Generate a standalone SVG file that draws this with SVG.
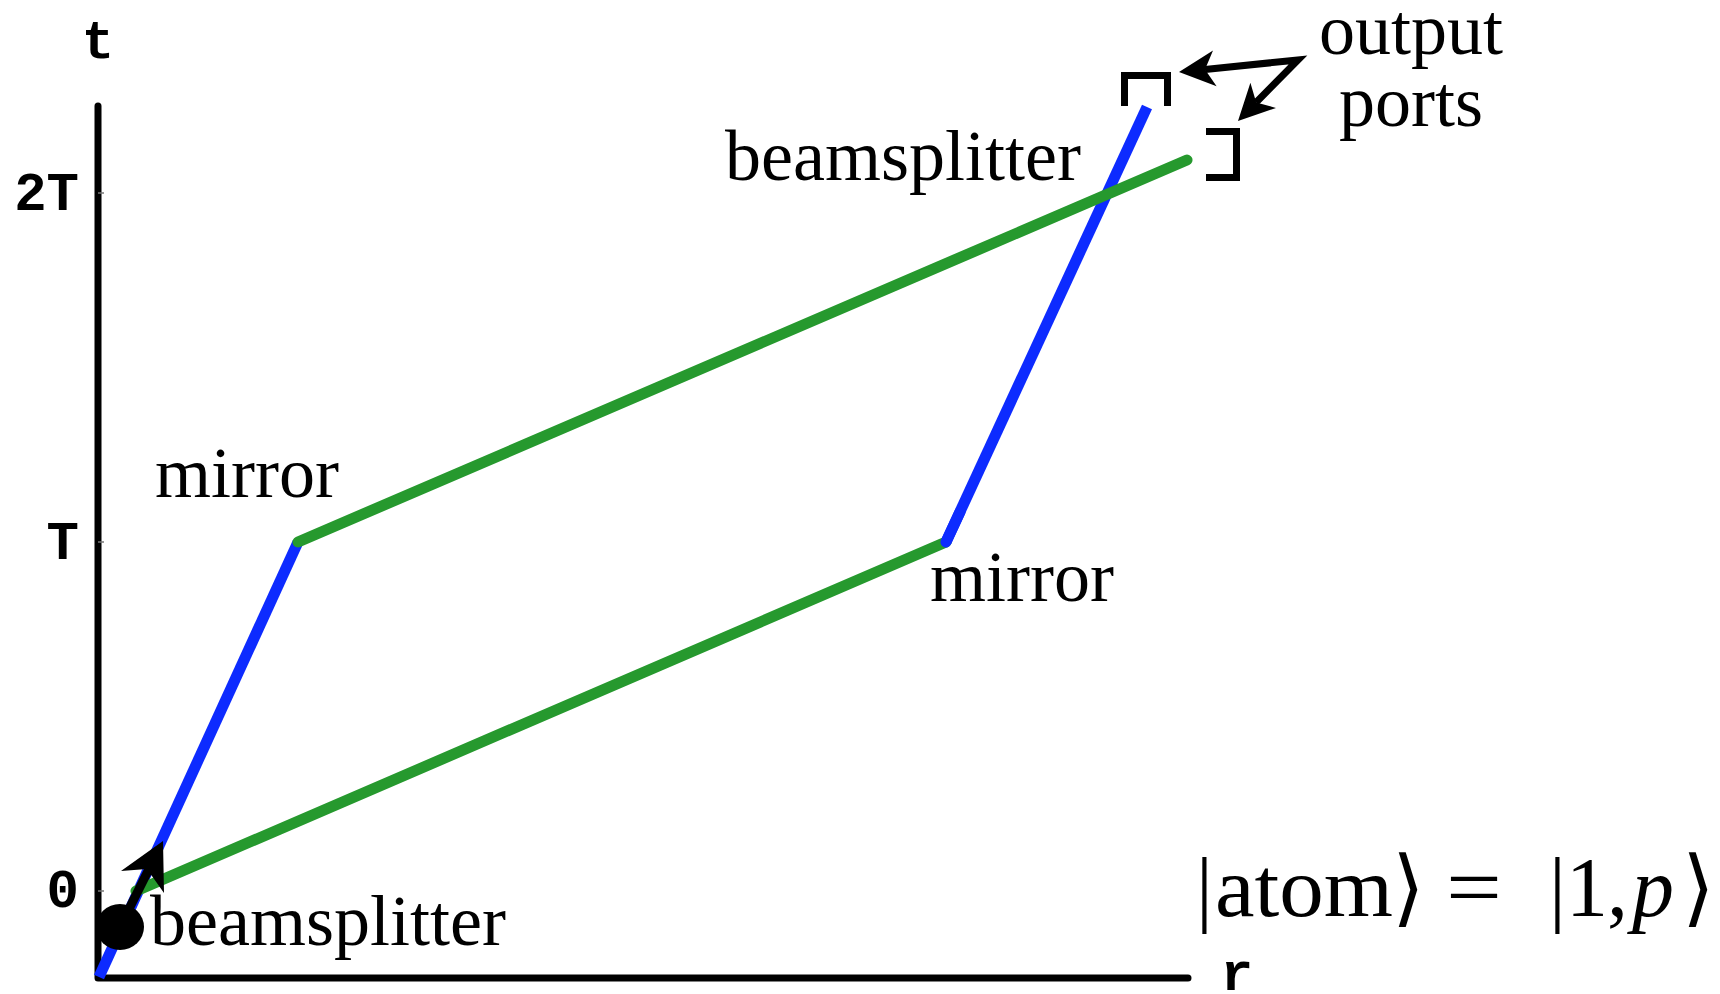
<svg xmlns="http://www.w3.org/2000/svg" width="1720" height="994" viewBox="0 0 1720 994">
<style>
.lbl{font-family:"Liberation Serif","Times New Roman",serif;font-size:72px;fill:#000}
.ax{font-family:"Liberation Mono","Courier New",monospace;font-weight:bold;font-size:54px;fill:#000}
.math{font-family:"Liberation Serif","DejaVu Serif",serif;font-size:84px;fill:#000}
.blue{stroke:#0d2bff;stroke-width:11;fill:none}
.green{stroke:#26992e;stroke-width:11;fill:none}
.axis{stroke:#000;stroke-width:7;fill:none;stroke-linecap:round;stroke-linejoin:round}
.port{stroke:#000;stroke-width:7;fill:none;stroke-linejoin:miter}
.ptr{stroke:#000;stroke-width:7;fill:none;stroke-linejoin:miter;stroke-miterlimit:10}
.head{fill:#000;stroke:none}
</style>

<g id="axes">
<path class="axis" d="M98,106 V978 H1188"/>
<path d="M98,193 H104 M98,542 H104 M98,891 H104" stroke="#777" stroke-width="1.5"/>
<text class="ax" x="98" y="58" text-anchor="middle">t</text>
<text class="ax" x="1237" y="990" text-anchor="middle">r</text>
<text class="ax" x="79" y="210" text-anchor="end">2T</text>
<text class="ax" x="79" y="559" text-anchor="end">T</text>
<text class="ax" x="79" y="907" text-anchor="end">0</text>
</g>

<g id="connectors">
<line class="blue" x1="99" y1="977" x2="298" y2="542"/>
<line class="blue" x1="946" y1="542" x2="1147" y2="107"/>
<line class="green" x1="136" y1="891" x2="946" y2="542" stroke-linecap="round"/>
<line class="green" x1="298" y1="542" x2="1187" y2="160" stroke-linecap="round"/>
<line class="blue" x1="946" y1="542" x2="960" y2="512" stroke-linecap="round"/>
<polyline class="ptr" points="1205,69.4 1298,60 1256,102.5"/>
<polygon class="head" points="1179,72 1213,50.5 1205,69.4 1216.6,86.3"/>
<polygon class="head" points="1238,121 1250.4,82.7 1256.2,102.5 1276,107.9"/>
</g>

<g id="beamsplitter-start">
<ellipse cx="120" cy="927" rx="24" ry="23" fill="#000"/>
<line x1="120" y1="927" x2="149" y2="869" stroke="#000" stroke-width="9"/>
<polygon class="head" points="163,841 121,871 147,869 164,893"/>
<text class="lbl" x="150" y="945">beamsplitter</text>
</g>

<g id="mirror-left">
<text class="lbl" x="155" y="497">mirror</text>
</g>

<g id="mirror-right">
<text class="lbl" x="930" y="601">mirror</text>
</g>

<g id="beamsplitter-end">
<text class="lbl" x="725" y="180">beamsplitter</text>
</g>

<g id="output-ports">
<path class="port" d="M1124.5,106 V75.5 H1167.5 V106"/>
<path class="port" d="M1206,131.5 H1236.5 V177.5 H1206"/>
<text class="lbl" x="1411" y="54" text-anchor="middle">output</text>
<text class="lbl" x="1411" y="126" text-anchor="middle">ports</text>
</g>

<g id="state">
<text class="math" y="916"><tspan x="1196">|</tspan><tspan x="1215" textLength="178" lengthAdjust="spacingAndGlyphs">atom</tspan><tspan x="1392">⟩</tspan><tspan x="1446" textLength="56" lengthAdjust="spacingAndGlyphs">=</tspan><tspan x="1549">|</tspan><tspan x="1566">1</tspan><tspan x="1607">,</tspan><tspan x="1632" font-style="italic">p</tspan><tspan x="1682">⟩</tspan></text>
</g>
</svg>
